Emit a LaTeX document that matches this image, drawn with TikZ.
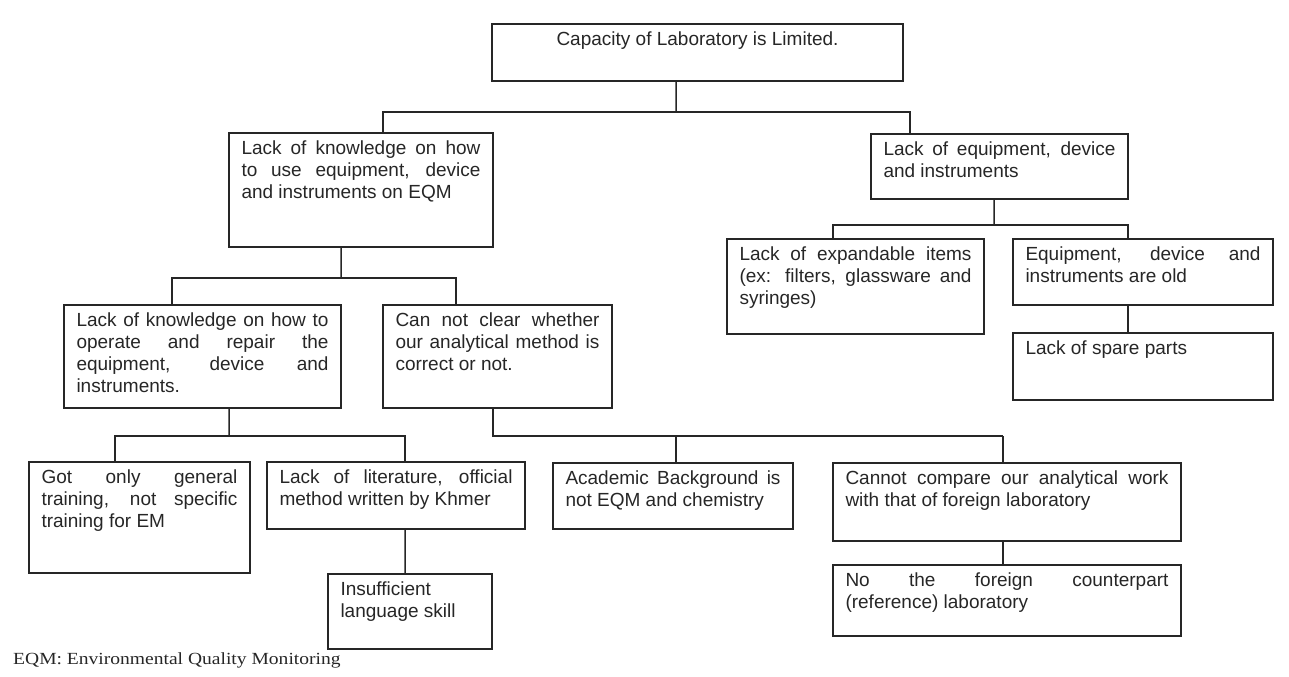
\documentclass[tikz,border=0pt]{standalone}
\usepackage{fontspec}
\setmainfont{Liberation Sans}
\newfontfamily\notefont[FakeStretch=1.15]{Liberation Serif}
\tikzset{
  bx/.style={draw=black!85, line width=1.5bp, rectangle, anchor=north west,
    inner xsep=12.5bp, inner ysep=6.5bp, outer sep=0pt, text=black!85,
    font=\fontsize{19bp}{21.8bp}\selectfont},
  wire/.style={draw=black!85, line width=1.5bp}
}
\newcommand{\bx}[7]{%
  \node[bx] (#1) at (#2,#3) {\parbox[t][\dimexpr #5bp-13bp\relax][t]{\dimexpr #4bp-25bp\relax}{%
    \tolerance=10000 \hyphenpenalty=10000 \strut #6#7}};}
\begin{document}
\begin{tikzpicture}[x=1bp,y=-1bp]
\useasboundingbox (0,0) rectangle (1289,677);
% boxes
\bx{top}{492}{24}{411}{57}{\centering}{Capacity of Laboratory is Limited.}
\bx{L1}{229}{133}{264}{114}{}{Lack of knowledge on how\linebreak to use equipment, device\linebreak and instruments on EQM}
\bx{R1}{871}{134}{257}{65}{}{Lack of equipment, device\linebreak and instruments}
\bx{R2a}{727}{239}{257}{95}{}{Lack of expandable items\linebreak (ex: filters, glassware and\linebreak syringes)}
\bx{R2b}{1013}{239}{260}{66}{}{Equipment, device and\linebreak instruments are old}
\bx{R3}{1013}{333}{260}{67}{}{Lack of spare parts}
\bx{L2a}{64}{305}{277}{103}{}{Lack of knowledge on how to\linebreak operate and repair the\linebreak equipment, device and\linebreak instruments.}
\bx{L2b}{383}{305}{229}{103}{}{Can not clear whether\linebreak our analytical method is\linebreak correct or not.}
\bx{L3a}{29}{462}{221}{111}{}{Got only general\linebreak training, not specific\linebreak training for EM}
\bx{L3b}{267}{462}{258}{67}{}{Lack of literature, official\linebreak method written by Khmer}
\bx{L4}{328}{574}{164}{75}{}{Insufficient\\ language skill}
\bx{L3c}{553}{463}{240}{66}{}{Academic Background is\linebreak not EQM and chemistry}
\bx{L3d}{833}{463}{348}{78}{}{Cannot compare our analytical work\linebreak with that of foreign laboratory}
\bx{L4b}{833}{565}{348}{71}{}{No the foreign counterpart\linebreak (reference) laboratory}
% junctions
\coordinate (j1) at (676,112);
\coordinate (j2) at (341,278);
\coordinate (j3) at (994,225);
\coordinate (j4) at (229,436);
\coordinate (j5) at (493,436);
% connectors
\draw[wire] ([xshift=184bp]top.south west) -- (j1);
\draw[wire] ([xshift=154bp]L1.north west) |- (j1) -| ([xshift=39bp]R1.north west);
\draw[wire] ([xshift=112bp]L1.south west) -- (j2);
\draw[wire] ([xshift=108bp]L2a.north west) |- (j2) -| ([xshift=73bp]L2b.north west);
\draw[wire] ([xshift=123bp]R1.south west) -- (j3);
\draw[wire] ([xshift=106bp]R2a.north west) |- (j3) -| ([xshift=115bp]R2b.north west);
\draw[wire] ([xshift=115bp]R2b.south west) -- ([xshift=115bp]R3.north west);
\draw[wire] ([xshift=165bp]L2a.south west) -- (j4);
\draw[wire] ([xshift=86bp]L3a.north west) |- (j4) -| ([xshift=138bp]L3b.north west);
\draw[wire] ([xshift=138bp]L3b.south west) -- ([xshift=77bp]L4.north west);
\draw[wire] ([xshift=110bp]L2b.south west) |- ([xshift=170bp]L3d.north west |- j5);
\draw[wire] ([xshift=123bp]L3c.north west) -- ([xshift=123bp]L3c.north west |- j5);
\draw[wire] ([xshift=170bp]L3d.north west) -- ([xshift=170bp]L3d.north west |- j5);
\draw[wire] ([xshift=170bp]L3d.south west) -- ([xshift=170bp]L4b.north west);
% footnote
\node[anchor=base west, inner sep=0pt, text=black!85, font=\notefont\fontsize{17bp}{20bp}\selectfont] (note) at (13,664) {EQM: Environmental Quality Monitoring};
\end{tikzpicture}
\end{document}
